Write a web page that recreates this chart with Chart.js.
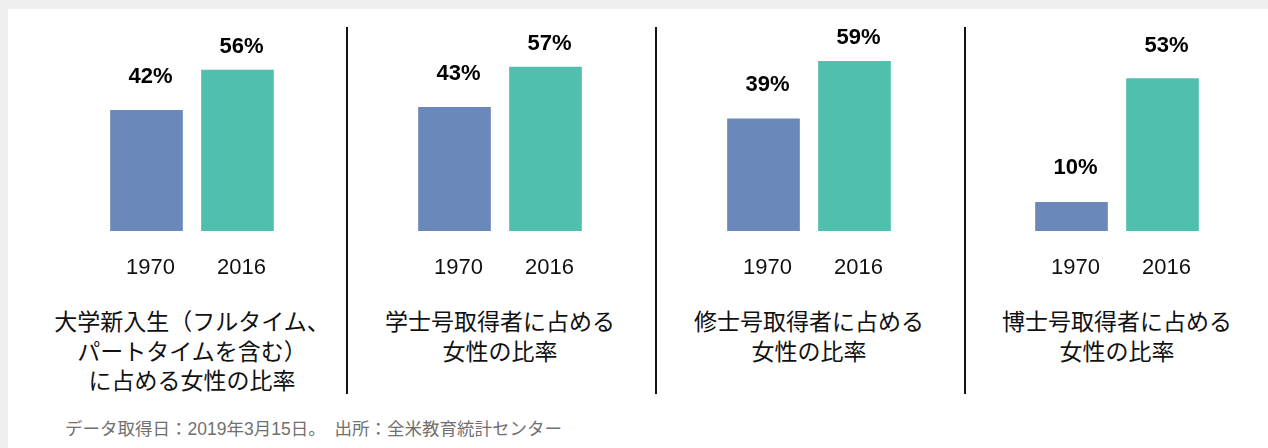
<!DOCTYPE html>
<html>
<head>
<meta charset="utf-8">
<script src="https://cdn.jsdelivr.net/npm/chart.js@4"></script>
<style>
  html, body { margin:0; padding:0; }
  body { width:1268px; height:448px; background:#efefef; position:relative; overflow:hidden; }
  #panel { position:absolute; left:8px; top:9px; right:0; bottom:0; background:#ffffff; }
  canvas.c { position:absolute; top:0; }
  .title { position:absolute; width:308px; text-align:center; top:308px;
           font-family:"Liberation Sans","Noto Sans CJK JP",sans-serif; font-size:23px; line-height:29.5px; color:#111; }
  .sep { position:absolute; width:2px; top:27px; height:367px; background:#151515; }
  #footer { position:absolute; left:65px; top:415px; font-family:"Liberation Sans","Noto Sans CJK JP",sans-serif;
            font-size:17.5px; color:#707070; white-space:pre; }
</style>
</head>
<body>
<div id="panel"></div>
<div id="root"></div>
<div id="footer"></div>
<script>
// ---- data ----
const categories = ["1970", "2016"];
const panelTitles = [
  ["大学新入生（フルタイム、", "パートタイムを含む）", "に占める女性の比率"],
  ["学士号取得者に占める", "女性の比率"],
  ["修士号取得者に占める", "女性の比率"],
  ["博士号取得者に占める", "女性の比率"]
];
const values1970 = [42, 43, 39, 10];
const values2016 = [56, 57, 59, 53];
const footerText = "データ取得日：2019年3月15日。　出所：全米教育統計センター";

// ---- style / layout ----
const barColors = ["#6a88b9", "#51bfae"];
const panelLefts = [38, 346, 655, 963];
const sepLefts = [346, 655, 964];
const labelGaps = [[27, 17], [27, 17], [28, 17], [28, 27]];

const root = document.getElementById('root');
document.getElementById('footer').textContent = footerText;

sepLefts.forEach(x => {
  const d = document.createElement('div');
  d.className = 'sep';
  d.style.left = x + 'px';
  root.appendChild(d);
});

const valueLabelPlugin = {
  id: 'valueLabels',
  afterDatasetsDraw(chart, args, opts) {
    const ctx = chart.ctx;
    const meta = chart.getDatasetMeta(0);
    ctx.save();
    ctx.font = 'bold 22px "Liberation Sans", Arial, sans-serif';
    ctx.fillStyle = '#000';
    ctx.textAlign = 'center';
    ctx.textBaseline = 'alphabetic';
    meta.data.forEach((bar, i) => {
      const v = chart.data.datasets[0].data[i];
      ctx.fillText(v + '%', bar.x + 4, bar.y - opts.gaps[i]);
    });
    ctx.restore();
  }
};

for (let p = 0; p < 4; p++) {
  const cv = document.createElement('canvas');
  cv.className = 'c';
  cv.width = 308; cv.height = 300;
  cv.style.left = panelLefts[p] + 'px';
  cv.style.width = '308px'; cv.style.height = '300px';
  root.appendChild(cv);

  const t = document.createElement('div');
  t.className = 'title';
  t.style.left = panelLefts[p] + 'px';
  t.innerHTML = panelTitles[p].join('<br>');
  root.appendChild(t);

  new Chart(cv, {
    type: 'bar',
    data: {
      labels: categories,
      datasets: [{
        data: [values1970[p], values2016[p]],
        backgroundColor: barColors,
        borderWidth: 0,
        barThickness: 72
      }]
    },
    options: {
      responsive: false,
      devicePixelRatio: 1,
      animation: false,
      events: [],
      layout: { padding: { left: 63, right: 63, top: 1, bottom: 9 } },
      plugins: {
        legend: { display: false },
        tooltip: { enabled: false },
        title: { display: false },
        valueLabels: { gaps: labelGaps[p] }
      },
      scales: {
        x: {
          grid: { display: false, drawTicks: false },
          border: { display: false },
          ticks: {
            color: '#111',
            font: { family: '"Liberation Sans", Arial, sans-serif', size: 22 },
            padding: 24,
            labelOffset: 4,
            maxRotation: 0
          },
          afterFit: s => { s.height = 60; }
        },
        y: {
          display: false,
          min: 0,
          max: 80,
          grid: { display: false }
        }
      }
    },
    plugins: [valueLabelPlugin]
  });
}
</script>
</body>
</html>
